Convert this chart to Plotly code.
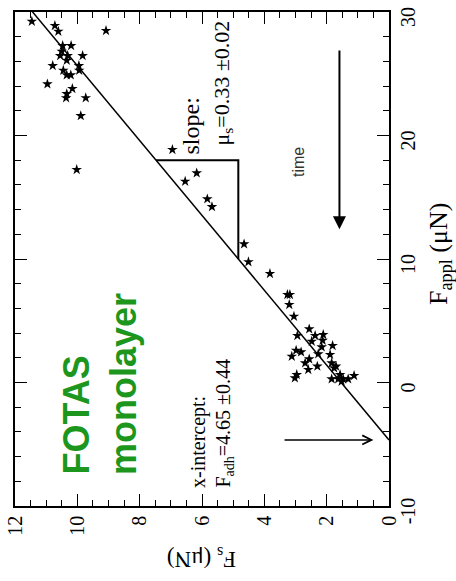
import plotly.graph_objects as go

# Static friction force F_s versus applied load F_appl (FOTAS monolayer)
f_appl = [29.24, 28.89, 28.43, 28.49, 27.27, 27.27, 26.81, 26.46, 26.46, 26.46,
          26.08, 25.65, 25.65, 25.27, 25.27, 24.90, 24.90, 24.17, 23.79, 23.38,
          23.04, 23.04, 21.60, 17.23,
          18.85, 16.28, 16.96, 14.86, 14.23, 11.21, 9.76, 8.81,
          7.11, 7.11, 6.30, 5.35, 4.33, 3.79, 3.79, 3.87, 3.33, 3.41,
          2.87, 2.98, 2.60, 2.47, 2.11, 2.31, 1.90, 2.25, 1.58, 1.58,
          1.31, 1.04, 1.17, 1.31, 0.63, 0.36, 0.28, 0.28, 0.28, 0.28,
          0.63, 0.55, 0.09]
f_s = [11.46, 10.72, 10.61, 9.08, 10.47, 10.20, 10.50, 10.55, 10.31, 9.83,
       10.34, 10.79, 9.95, 10.45, 9.94, 10.34, 10.21, 10.96, 10.16, 10.34,
       9.73, 10.36, 9.89, 10.02,
       6.95, 6.54, 6.17, 5.83, 5.68, 4.65, 4.51, 3.82,
       3.26, 3.18, 3.20, 3.05, 2.56, 2.94, 2.37, 2.11, 2.48, 2.13,
       2.16, 1.81, 2.98, 2.82, 3.12, 2.27, 2.56, 1.89, 2.69, 1.84,
       2.30, 2.59, 1.76, 1.70, 2.96, 3.02, 1.84, 1.63, 1.47, 1.31,
       1.57, 1.12, 1.52]

# Linear fit: F_s = mu_s * (F_appl + F_adh)
mu_s = 0.33
f_adh = 4.65
fit_appl = [-f_adh, 31.0]
fit_s = [mu_s * (a + f_adh) for a in fit_appl]

# Slope triangle between two loads on the fit line
tri_appl = [18.0, 18.0, 10.0]
tri_s = [mu_s * (tri_appl[0] + f_adh), mu_s * (tri_appl[2] + f_adh), mu_s * (tri_appl[2] + f_adh)]

x_ticks = [0, 2, 4, 6, 8, 10, 12]
x_ticktext = ["0", "2", "4", "6", "8", "10", "12"]
y_ticks = [-10, 0, 10, 20, 30]
y_ticktext = ["-10", "0", "10", "20", "30"]

SERIF = "Liberation Serif"
SANS = "Liberation Sans"
GREEN = "rgb(28,150,28)"

fig = go.Figure()

fig.add_trace(go.Scatter(x=fit_s, y=fit_appl, mode="lines",
                         line=dict(color="black", width=1.5), showlegend=False))
fig.add_trace(go.Scatter(x=tri_s, y=tri_appl, mode="lines",
                         line=dict(color="black", width=2), showlegend=False))
fig.add_trace(go.Scatter(x=f_s, y=f_appl, mode="markers",
                         marker=dict(symbol="star", size=8, color="black", line=dict(width=0)),
                         showlegend=False))

# axes: F_s runs horizontally (12 -> 0), F_appl runs vertically on the right
fig.update_xaxes(range=[12, 0], tickvals=x_ticks, ticktext=x_ticktext, ticks="inside",
                 ticklen=12, tickwidth=1, tickcolor="black", tickangle=-90, showline=True,
                 linecolor="black", linewidth=1.5, mirror="allticks", showgrid=False,
                 zeroline=False, automargin=False, ticklabeloverflow="allow",
                 tickfont=dict(family=SERIF, size=20, color="black"),
                 minor=dict(dtick=0.5, tick0=0, ticks="inside", ticklen=6, tickcolor="black", showgrid=False))
fig.update_yaxes(range=[-10, 30], tickvals=y_ticks, ticktext=y_ticktext, side="right",
                 ticks="inside", ticklen=12, tickwidth=1, tickcolor="black", tickangle=-90,
                 showline=True, linecolor="black", linewidth=1.5, mirror="allticks",
                 showgrid=False, zeroline=False, automargin=False, ticklabeloverflow="allow",
                 ticklabelshift=8,
                 tickfont=dict(family=SERIF, size=20, color="black"),
                 minor=dict(dtick=2, tick0=0, ticks="inside", ticklen=6, tickcolor="black", showgrid=False))

def px_x(p):
    return (p - 15) / 374.0

def px_y(p):
    return (506 - p) / 494.0

annotations = [
    dict(text="F<sub>s</sub> (μN)", x=0.5, y=px_y(558), xref="paper", yref="paper",
         textangle=180, showarrow=False, font=dict(family=SERIF, size=23, color="black"),
         xanchor="center", yanchor="middle"),
    dict(text="F<sub>appl</sub> (μN)", x=px_x(440), y=px_y(254), xref="paper", yref="paper",
         textangle=-90, showarrow=False, font=dict(family=SERIF, size=26, color="black"),
         xanchor="center", yanchor="middle"),
    dict(text="FOTAS", x=px_x(76), y=px_y(477), xref="paper", yref="paper", textangle=-90,
         showarrow=False, font=dict(family=SANS, size=36, color=GREEN, weight="bold"),
         xanchor="center", yanchor="bottom"),
    dict(text="monolayer", x=px_x(123), y=px_y(477), xref="paper", yref="paper", textangle=-90,
         showarrow=False, font=dict(family=SANS, size=36, color=GREEN, weight="bold"),
         xanchor="center", yanchor="bottom"),
    dict(text="x-intercept:", x=px_x(198), y=px_y(490), xref="paper", yref="paper", textangle=-90,
         showarrow=False, font=dict(family=SERIF, size=20, color="black"),
         xanchor="center", yanchor="bottom"),
    dict(text="F<sub>adh</sub>=4.65 ±0.44", x=px_x(224), y=px_y(490), xref="paper", yref="paper",
         textangle=-90, showarrow=False, font=dict(family=SERIF, size=20, color="black"),
         xanchor="center", yanchor="bottom"),
    dict(text="slope:", x=px_x(190), y=px_y(157), xref="paper", yref="paper", textangle=-90,
         showarrow=False, font=dict(family=SERIF, size=24, color="black"),
         xanchor="center", yanchor="bottom"),
    dict(text="μ<sub>s</sub>=0.33 ±0.02", x=px_x(222), y=px_y(148), xref="paper", yref="paper",
         textangle=-90, showarrow=False, font=dict(family=SERIF, size=22, color="black"),
         xanchor="center", yanchor="bottom"),
    dict(text="time", x=px_x(298), y=px_y(162), xref="paper", yref="paper", textangle=-90,
         showarrow=False, font=dict(family=SANS, size=16, color="#333333"),
         xanchor="center", yanchor="middle"),
    # time arrow, pointing towards decreasing load
    dict(x=1.59, y=12.4, ax=1.59, ay=27.0, xref="x", yref="y", axref="x", ayref="y",
         text="", showarrow=True, arrowhead=2, arrowsize=1.3, arrowwidth=2, arrowcolor="black"),
    # arrow marking the x-intercept
    dict(x=0.5, y=-f_adh, ax=3.4, ay=-f_adh, xref="x", yref="y", axref="x", ayref="y",
         text="", showarrow=True, arrowhead=5, arrowsize=1.2, arrowwidth=1.5, arrowcolor="black"),
]

fig.update_layout(width=456, height=581, margin=dict(l=15, r=67, t=12, b=75),
                  paper_bgcolor="white", plot_bgcolor="white", annotations=annotations)

fig.write_html("out.html")
